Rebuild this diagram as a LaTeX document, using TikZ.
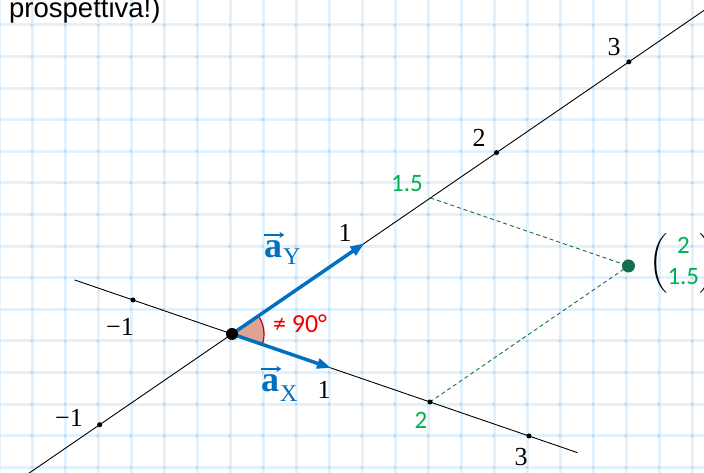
\RequirePackage{fix-cm}
\documentclass[tikz,border=0pt]{standalone}
\usepackage{amsmath}
\usepackage{fontspec}
\newfontfamily\carlito{Carlito}
\newfontfamily\arialf{Liberation Sans}
\newfontfamily\timesf{Liberation Serif}
\usetikzlibrary{arrows.meta,calc}
\definecolor{vblue}{RGB}{0,112,192}
\definecolor{lgreen}{RGB}{0,176,80}
\definecolor{dgreen}{RGB}{20,110,80}
\definecolor{gridc}{RGB}{226,241,251}
\definecolor{gridd}{RGB}{185,212,236}
\definecolor{wedgef}{RGB}{224,162,146}
\definecolor{wedged}{RGB}{192,0,0}
\definecolor{redtxt}{RGB}{240,0,0}
\begin{document}
\begin{tikzpicture}[x=1pt,y=1pt,
  axisline/.style={black, line width=0.9pt},
  guideline/.style={dgreen, line width=0.9pt, dash pattern=on 4pt off 3pt},
  vecarrow/.style={vblue, line width=3.5pt, -{Triangle[length=14pt,width=10pt]}},
  smallarrow/.style={vblue, line width=1.3pt, -{Stealth[length=5pt,width=6pt]}},
  tickdot/.style={black, radius=2.5pt},
  numlab/.style={font=\timesf\fontsize{26}{28}\selectfont, inner sep=0pt},
  greenlab/.style={font=\carlito\fontsize{25}{27}\selectfont, text=lgreen, inner sep=0pt},
  vecletter/.style={font=\timesf\bfseries\fontsize{36}{38}\selectfont, text=vblue, inner sep=0pt, anchor=base west},
  vecsub/.style={font=\timesf\fontsize{24}{26}\selectfont, text=vblue, inner sep=0pt, anchor=base west}]
\useasboundingbox (0,0) rectangle (704,473);
\clip (0,0) rectangle (704,473);
\fill[white] (0,0) rectangle (704,473);
% graph paper
\foreach \i in {0,...,21} \draw[gridc, line width=3pt] ({-1+33*\i},0) -- ({-1+33*\i},473);
\foreach \j in {0,...,15} \draw[gridc, line width=3pt] (0,{479.6-31.6*\j}) -- (704,{479.6-31.6*\j});
\foreach \i in {0,...,21} \foreach \j in {0,...,15} \fill[gridd] ({-1+33*\i},{479.6-31.6*\j}) circle (1.6pt);
% angle wedge
\coordinate (O) at (232,139);
\fill[wedgef] (O) -- ++(-18.95:32) arc[start angle=-18.95, end angle=34.43, radius=32] -- cycle;
\draw[wedged, line width=1.2pt] ($(O)+(-18.95:32)$) arc[start angle=-18.95, end angle=34.43, radius=32];
\begin{scope}[shift={(232pt,139pt)}, x={(99pt,-34pt)}, y={(132.3pt,90.7pt)}]
  \coordinate (XS) at (-1.59,0);
  \coordinate (XE) at (3.49,0);
  \coordinate (YS) at (0,-1.9);
  \coordinate (YE) at (0,3.9);
  \coordinate (Xm1) at (-1,0);
  \coordinate (X1) at (1,0);
  \coordinate (X2) at (2,0);
  \coordinate (X3) at (3,0);
  \coordinate (Ym1) at (0,-1);
  \coordinate (Y1) at (0,1);
  \coordinate (Y15) at (0,1.5);
  \coordinate (Y2) at (0,2);
  \coordinate (Y3) at (0,3);
  \coordinate (P) at (2,1.5);
\end{scope}
\draw[axisline] (XS) -- (XE);
\draw[axisline] (YS) -- (YE);
\draw[guideline] (Y15) -- (P);
\draw[guideline] (X2) -- (P);
\foreach \p in {Xm1,X2,X3,Ym1,Y2,Y3} \fill[tickdot] (\p) circle;
\draw[vecarrow] (O) -- (X1);
\draw[vecarrow] (O) -- (Y1);
\fill[black] (O) circle (6pt);
\fill[dgreen] (P) circle (6.5pt);
% axis labels
\node[numlab] (lxm1) at (120,146) {−1};
\node[numlab] (lx1) at (324,83) {1};
\node[greenlab] (lx2) at (421,53) {2};
\node[numlab] (lx3) at (521,16) {3};
\node[numlab] (lym1) at (69,55) {−1};
\node[numlab] (ly1) at (345,240) {1};
\node[greenlab] (ly15) at (407,289) {1.5};
\node[numlab] (ly2) at (479,335) {2};
\node[numlab] (ly3) at (614,426) {3};
% vector labels
\node[vecletter] (laYa) at (264,215) {a};
\node[vecsub] (laYs) at (283,208) {Y};
\draw[smallarrow] ([yshift=6pt]laYa.north west) -- ([yshift=6pt,xshift=2pt]laYa.north east);
\node[vecletter] (laXa) at (261,81) {a};
\node[vecsub] (laXs) at (280,71) {X};
\draw[smallarrow] ([yshift=6pt]laXa.north west) -- ([yshift=6pt,xshift=2pt]laXa.north east);
\node[font=\carlito\fontsize{26}{28}\selectfont, text=redtxt, inner sep=0pt] (ang) at (300,149) {≠ 90°};
% coordinate vector
\node[anchor=west, inner sep=0pt, font=\carlito\fontsize{25}{31}\selectfont] (M) at (649,210)
  {$\left(\begin{tabular}{@{}c@{}}\textcolor{lgreen}{2}\\ \textcolor{lgreen}{1.5}\end{tabular}\right)$};
\node[anchor=base west, font=\arialf\fontsize{27.5}{30}\selectfont, inner sep=0pt] (title) at (9,455) {prospettiva!)};
\end{tikzpicture}
\end{document}
